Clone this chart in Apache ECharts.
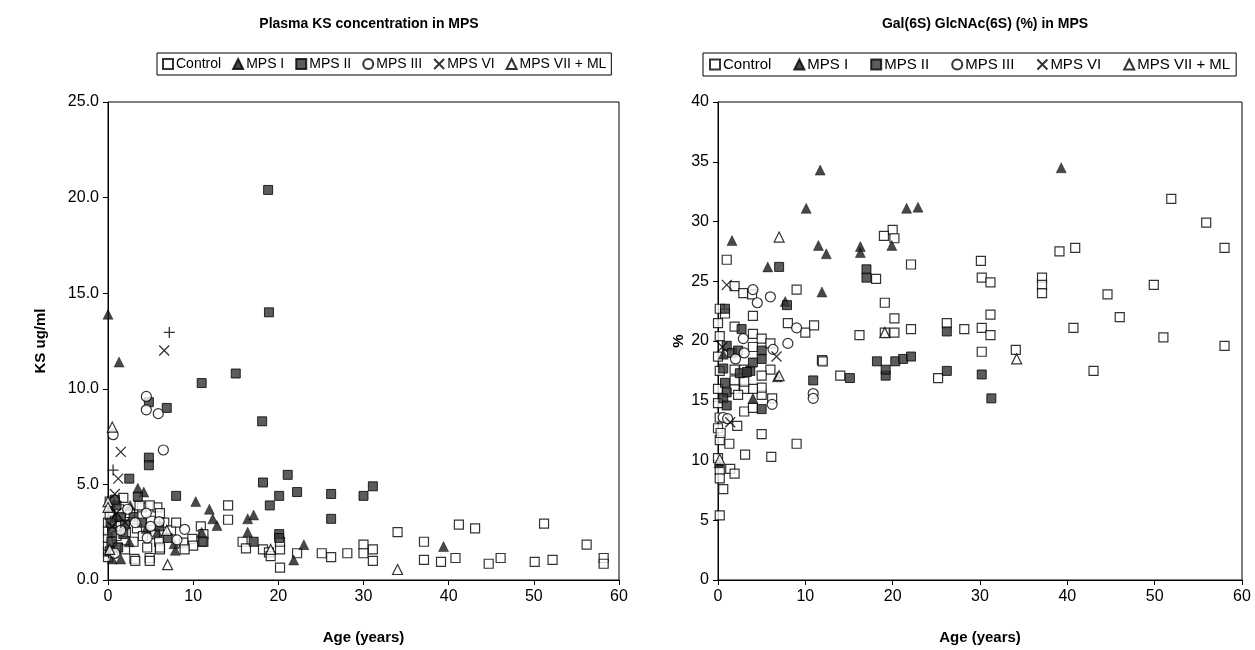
<!DOCTYPE html>
<html>
<head>
<meta charset="utf-8">
<script src="https://cdn.jsdelivr.net/npm/echarts@6/dist/echarts.min.js"></script>
<style>
  html, body { margin: 0; padding: 0; background: #fff; }
  #main { width: 1255px; height: 650px; }
</style>
</head>
<body>
<div id="main"></div>
<script>
var legendNames = ['Control', 'MPS I', 'MPS II', 'MPS III', 'MPS VI', 'MPS VII + ML'];
var xTicks = [0, 10, 20, 30, 40, 50, 60];

// left: plasma KS (ug/ml) vs age
var ksControl = [[0,1.2],[0,1.5],[0,1.8],[0,2.2],[0,2.6],[0,3.0],[0.2,3.4],[0.2,4.1],[0.4,2.0],[0.5,2.7],[0.6,1.4],[0.8,3.1],[1,2.3],[1.1,1.7],[1.3,3.7],[1.5,2.9],[1.8,4.3],[2,1.6],[2.1,2.5],[2.6,3.5],[3,2.0],[3.1,1.1],[3.4,2.7],[4,3.8],[4.1,2.3],[4.6,1.7],[4.9,1.15],[5,3.1],[5.5,2.4],[5.8,3.8],[6,2.0],[6.1,1.6],[6.6,3.0],[7.4,2.6],[8,3.0],[8.9,1.95],[9.9,2.15],[10.9,2.8],[11.2,2.4],[11.2,2.0],[14.1,3.9],[14.1,3.15],[15.8,2.0],[16.2,1.65],[18.2,1.6],[18.9,1.45],[19.1,1.25],[20.2,1.6],[20.2,0.65],[20.2,2.0],[22.2,1.4],[25.1,1.4],[26.2,1.2],[28.1,1.4],[30,1.85],[30,1.4],[31.1,1.6],[31.1,1.0],[34,2.5],[37.1,2.0],[37.1,1.05],[39.1,0.95],[40.8,1.15],[41.2,2.9],[43.1,2.7],[44.7,0.85],[46.1,1.15],[50.1,0.95],[51.2,2.95],[52.2,1.05],[56.2,1.85],[58.2,1.15],[58.2,0.85],[10,1.8],[9,1.6],[6.1,3.5],[6.1,1.7],[4.9,3.9],[3.7,3.9],[3.2,1.0],[4.9,1.0]];
var ksMps1 = [[0,13.9],[1.3,11.4],[3.5,4.8],[10.3,4.1],[11.9,3.7],[12.3,3.2],[12.8,2.85],[17.1,3.4],[16.4,3.2],[16.4,2.5],[23,1.85],[21.8,1.05],[39.4,1.75],[1.5,1.1],[7.9,1.55],[7.75,1.9],[0.3,3.8],[0.8,3.3],[2.6,3.9],[4.5,2.7],[5.8,2.5],[11,2.5],[4.2,4.6],[0.5,1.1],[2.5,2.0]];
var ksMps2 = [[18.8,20.4],[18.9,14.0],[15,10.8],[11,10.3],[18.1,8.3],[4.8,9.3],[6.9,9.0],[4.8,6.4],[4.8,6.0],[2.5,5.3],[3.5,4.35],[8,4.4],[21.1,5.5],[18.2,5.1],[22.2,4.6],[20.1,4.4],[26.2,4.5],[31.1,4.9],[30,4.4],[19,3.9],[26.2,3.2],[20.1,2.4],[17.1,2.0],[20.1,2.2],[0.3,3.0],[0.5,2.5],[1,3.9],[1.5,3.3],[2,2.9],[0.5,2.0],[1.2,1.7],[3,3.3],[4,3.0],[6,2.8],[7,2.2],[11.1,2.0],[0.8,4.2],[1.8,2.4],[0.2,1.5]];
var ksMps3 = [[4.5,9.6],[4.5,8.9],[5.9,8.7],[6.5,6.8],[0.6,7.6],[2.3,3.7],[4.5,3.5],[6,3.05],[9,2.65],[8.1,2.1],[3.2,3.0],[5,2.8],[0.8,1.4],[4.6,2.2],[1.5,2.6]];
var ksMps6 = [[6.6,12.0],[1.5,6.7],[1.2,5.3],[0.8,4.5],[1.0,3.5],[0.5,2.8],[2,3.0]];
var ksMps7 = [[0.5,8.0],[7,0.8],[34,0.55],[19.1,1.6],[6.9,2.6],[0,4.1],[0,3.8],[0.2,1.6]];
var ksPlus = [[7.2,12.95],[0.6,5.75]];

// right: Gal(6S) GlcNAc(6S) (%) vs age
var pctControl = [[0.2,5.4],[0.2,22.7],[0,21.5],[0.2,20.4],[0,18.7],[0.2,17.5],[0,16.0],[0,14.8],[0.2,13.6],[0,12.7],[0.2,11.7],[0,10.2],[0.2,9.2],[0.2,8.5],[0.6,7.6],[1.4,9.3],[1.9,8.9],[3.1,10.5],[6.1,10.3],[9.0,11.4],[5.0,12.2],[1.3,11.4],[0.3,12.3],[2.2,12.9],[3.0,14.1],[4.0,14.4],[6.2,15.2],[5.0,15.5],[5.0,16.1],[4.0,16.0],[3.0,16.0],[3.0,16.6],[1.9,16.0],[1.9,16.7],[1.9,17.6],[3.0,17.6],[6.0,17.6],[5.0,17.1],[1.0,26.8],[9.0,24.3],[1.9,24.6],[2.9,24.0],[3.9,23.9],[4.0,22.1],[0.8,22.3],[8.0,21.5],[10.0,20.7],[11.0,21.3],[1.9,21.2],[4.0,20.6],[5.0,20.2],[6.0,19.8],[11.9,18.4],[14.0,17.1],[12.0,18.3],[20.0,29.3],[19.0,28.8],[20.2,28.6],[22.1,26.4],[18.1,25.2],[19.1,23.2],[20.2,21.9],[22.1,21.0],[20.2,20.7],[16.2,20.5],[19.1,20.7],[26.2,21.5],[28.2,21.0],[30.1,26.7],[30.2,25.3],[31.2,24.9],[31.2,22.2],[30.2,21.1],[31.2,20.5],[30.2,19.1],[25.2,16.9],[34.1,19.25],[37.1,25.3],[37.1,24.7],[37.1,24.0],[39.1,27.5],[40.9,27.8],[40.7,21.1],[43.0,17.5],[44.6,23.9],[46.0,22.0],[49.9,24.7],[51.0,20.3],[51.9,31.9],[55.9,29.9],[58.0,27.8],[58.0,19.6],[2.3,15.5],[4,19.5]];
var pctMps1 = [[1.6,28.4],[5.7,26.2],[11.5,28.0],[12.4,27.3],[11.9,24.1],[7.7,23.3],[10.1,31.1],[11.7,34.3],[16.3,27.9],[16.3,27.4],[19.9,28.0],[21.6,31.1],[22.9,31.2],[39.3,34.5],[4.0,15.2],[0.6,18.9],[0.1,9.8],[6.8,17.0]];
var pctMps2 = [[0.8,22.7],[7.0,26.2],[7.9,23.0],[2.7,21.0],[5.0,19.2],[5.0,18.5],[10.9,16.7],[5.0,14.3],[1,19.6],[1.6,19.0],[2.3,19.2],[0.6,17.7],[0.8,16.5],[1.0,15.7],[0.6,15.2],[1.0,14.6],[2.5,17.3],[3.7,17.5],[4.0,18.2],[3.3,17.4],[15.1,16.9],[18.2,18.3],[19.2,17.1],[19.2,17.6],[20.3,18.3],[21.2,18.5],[22.1,18.7],[26.2,20.8],[30.2,17.2],[31.3,15.2],[26.2,17.5],[17.0,26.0],[17.0,25.3]];
var pctMps3 = [[4.0,24.3],[6.0,23.7],[4.5,23.2],[9.0,21.1],[2.9,20.2],[8.0,19.8],[6.3,19.3],[6.2,14.7],[10.9,15.6],[10.9,15.2],[0.6,13.6],[1.1,13.5],[2,18.5],[3,19.0]];
var pctMps6 = [[1.0,24.7],[6.7,18.7],[1.4,13.2],[0.5,19.5]];
var pctMps7 = [[7.0,28.7],[19.1,20.7],[34.2,18.5],[0.2,10.1],[7.0,17.1]];

var font = 'Liberation Sans, Arial, sans-serif';
var crossPath = 'path://M0,0L10,10M10,0L0,10';
var plusPath = 'path://M5,0L5,10M0,5L10,5';

var styles = {
    'Control':      { symbol: 'rect', symbolSize: 9, itemStyle: { color: '#fff', borderColor: '#000', borderWidth: 1.2 } },
    'MPS I':        { symbol: 'triangle', symbolSize: 10, itemStyle: { color: '#1a1a1a', borderColor: '#000', borderWidth: 0.5 } },
    'MPS II':       { symbol: 'rect', symbolSize: 9, itemStyle: { color: '#333', borderColor: '#000', borderWidth: 1 } },
    'MPS III':      { symbol: 'circle', symbolSize: 10, itemStyle: { color: '#fff', borderColor: '#000', borderWidth: 1.2 } },
    'MPS VI':       { symbol: crossPath, symbolSize: 10, itemStyle: { color: 'transparent', borderColor: '#000', borderWidth: 1.3 } },
    'MPS VII + ML': { symbol: 'triangle', symbolSize: 10, itemStyle: { color: '#fff', borderColor: '#000', borderWidth: 1.2 } },
    'plus':         { symbol: plusPath, symbolSize: 11, itemStyle: { color: 'transparent', borderColor: '#000', borderWidth: 1.3 } }
};

function mk(name, data, idx) {
    var s = styles[name];
    return {
        name: name, type: 'scatter', data: data,
        xAxisIndex: idx, yAxisIndex: idx,
        symbol: s.symbol, symbolSize: s.symbolSize, itemStyle: s.itemStyle,
        emphasis: { disabled: true }
    };
}

function xAxisFor(idx) {
    return {
        gridIndex: idx, type: 'value', min: 0, max: 60, interval: 10,
        name: 'Age (years)', nameLocation: 'middle', nameGap: 50,
        nameTextStyle: { fontFamily: font, fontSize: 15, fontWeight: 'bold', color: '#000' },
        axisLine: { onZero: false, lineStyle: { color: '#000', width: 1 } },
        axisTick: { inside: false, length: 5, lineStyle: { color: '#000' } },
        axisLabel: { fontFamily: font, fontSize: 16, color: '#000', margin: 9 },
        splitLine: { show: false }
    };
}

var dom = document.getElementById('main');
var myChart = echarts.init(dom);
var option = {
    backgroundColor: '#fff',
    animation: false,
    title: [
        { text: 'Plasma KS concentration in MPS', left: 364, top: 12, textAlign: 'center',
          textStyle: { fontFamily: font, fontSize: 14, fontWeight: 'bold', color: '#000' } },
        { text: 'Gal(6S) GlcNAc(6S) (%) in MPS', left: 980, top: 12, textAlign: 'center',
          textStyle: { fontFamily: font, fontSize: 14, fontWeight: 'bold', color: '#000' } }
    ],
    legend: [
        { data: legendNames, left: 157, top: 53, itemGap: 11, itemWidth: 10, itemHeight: 10,
          padding: [4, 5], borderColor: '#000', borderWidth: 1, selectedMode: false,
          textStyle: { fontFamily: font, fontSize: 14, color: '#000', padding: [0, 0, 0, -2] } },
        { data: legendNames, left: 703, top: 53, itemGap: 22, itemWidth: 10, itemHeight: 10,
          padding: [4, 6], borderColor: '#000', borderWidth: 1, selectedMode: false,
          textStyle: { fontFamily: font, fontSize: 15, color: '#000', padding: [0, 0, 0, -2] } }
    ],
    grid: [
        { left: 108, right: 636, top: 102, bottom: 65, show: true, borderColor: '#000', borderWidth: 1, backgroundColor: 'transparent' },
        { left: 718, right: 13, top: 102, bottom: 65, show: true, borderColor: '#000', borderWidth: 1, backgroundColor: 'transparent' }
    ],
    xAxis: [xAxisFor(0), xAxisFor(1)],
    yAxis: [
        { gridIndex: 0, type: 'value', min: 0, max: 25, interval: 5,
          name: 'KS ug/ml', nameLocation: 'middle', nameGap: 60, nameRotate: 90,
          nameTextStyle: { fontFamily: font, fontSize: 15, fontWeight: 'bold', color: '#000' },
          axisLine: { show: true, lineStyle: { color: '#000' } },
          axisTick: { length: 5, lineStyle: { color: '#000' } },
          axisLabel: { fontFamily: font, fontSize: 16, color: '#000', margin: 9,
                       formatter: function (v) { return v.toFixed(1); } },
          splitLine: { show: false } },
        { gridIndex: 1, type: 'value', min: 0, max: 40, interval: 5,
          name: '%', nameLocation: 'middle', nameGap: 32, nameRotate: 90,
          nameTextStyle: { fontFamily: font, fontSize: 15, fontWeight: 'bold', color: '#000' },
          axisLine: { show: true, lineStyle: { color: '#000' } },
          axisTick: { length: 5, lineStyle: { color: '#000' } },
          axisLabel: { fontFamily: font, fontSize: 16, color: '#000', margin: 9 },
          splitLine: { show: false } }
    ],
    series: [
        mk('Control', ksControl, 0),
        mk('MPS I', ksMps1, 0),
        mk('MPS II', ksMps2, 0),
        mk('MPS III', ksMps3, 0),
        mk('MPS VI', ksMps6, 0),
        mk('MPS VII + ML', ksMps7, 0),
        mk('plus', ksPlus, 0),
        mk('Control', pctControl, 1),
        mk('MPS I', pctMps1, 1),
        mk('MPS II', pctMps2, 1),
        mk('MPS III', pctMps3, 1),
        mk('MPS VI', pctMps6, 1),
        mk('MPS VII + ML', pctMps7, 1)
    ]
};
if (option && typeof option === "object") {
    myChart.setOption(option, true);
}
</script>
</body>
</html>
